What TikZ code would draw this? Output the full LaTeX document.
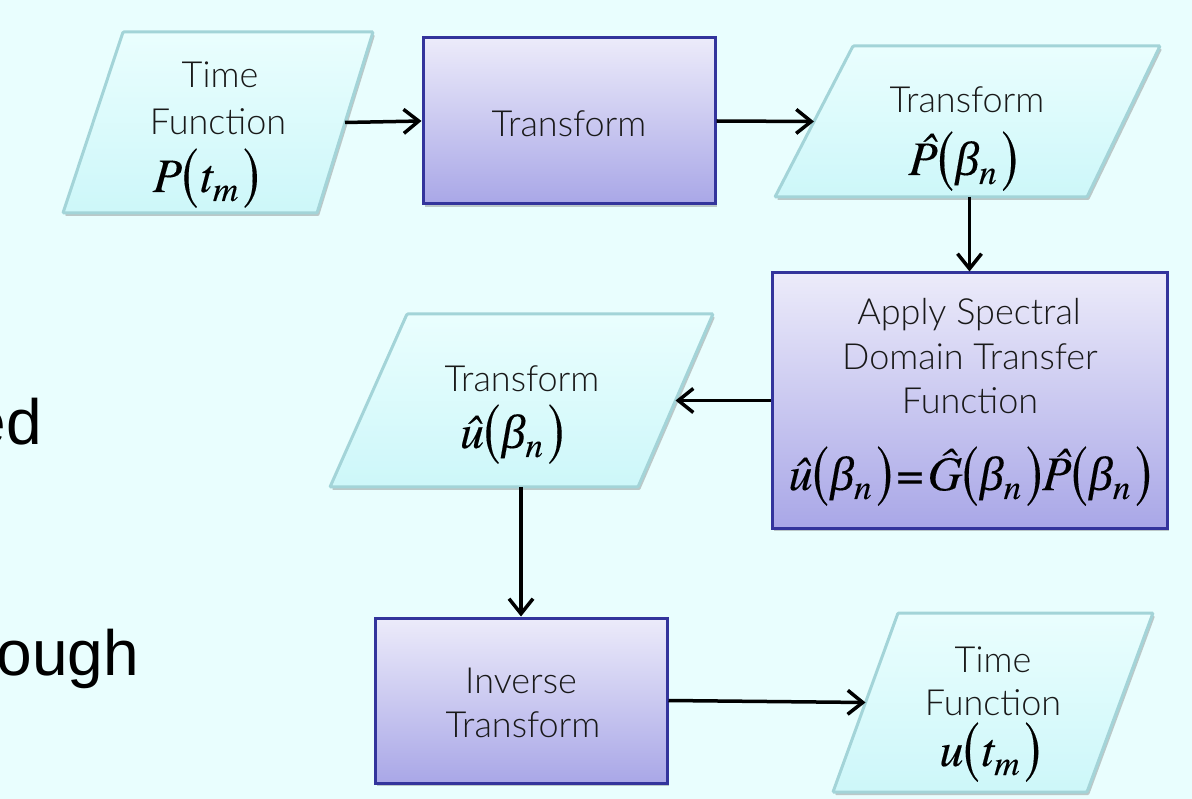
\documentclass[tikz,border=0pt]{standalone}
\usepackage{fontspec}
\usepackage{graphicx}
\usetikzlibrary{arrows.meta,shadows}
\IfFontExistsTF{Lato Light}{\newfontfamily\lt{Lato Light}}{\newfontfamily\lt{Lato}}
\IfFontExistsTF{texgyretermes-italic.otf}
  {\newfontfamily\tmf{texgyretermes-regular.otf}[ItalicFont=texgyretermes-italic.otf,FakeBold=0.25]}
  {\newfontfamily\tmf{Liberation Serif}[ItalicFont={Liberation Serif Italic},FakeBold=0.25]}
\newfontfamily\grf{Liberation Serif}[ItalicFont={Liberation Serif Italic},FakeBold=0.25]
\newfontfamily\arialf{Liberation Sans}
\definecolor{bg}{HTML}{E9FEFE}
\definecolor{paratop}{HTML}{EAFEFE}
\definecolor{parabot}{HTML}{CDF7F9}
\definecolor{parabd}{HTML}{A3D4D8}
\definecolor{rtop}{HTML}{ECEBFA}
\definecolor{rbot}{HTML}{A9A7E7}
\definecolor{rbd}{HTML}{33349C}
\newcommand\LP{\raisebox{-3.5pt}{\scalebox{1}[1.45]{\upshape(}}\kern1.5pt}
\newcommand\RP{\kern5pt\raisebox{-3.5pt}{\scalebox{1}[1.45]{\upshape)}}}
\newcommand\sbs[1]{\raisebox{-9pt}{\fontsize{35}{35}\selectfont #1}}
\newcommand\bt{{\grf\itshape β}}
\newcommand\hP{\rlap{\kern12pt\raisebox{9pt}{ˆ}}P}
\newcommand\paral[7]{%
  \path[para] (#2,#4) -- (#3,#4) -- (#6,#7) -- (#5,#7) -- cycle;
  \coordinate (#1r) at ({(#3+#6)/2},{(#4+#7)/2});
  \coordinate (#1l) at ({(#2+#5)/2},{(#4+#7)/2});
  \coordinate (#1b) at ({(#5+#6)/2},#7);
}
\tikzset{
  shd/.style={drop shadow={shadow xshift=2pt,shadow yshift=-3pt,opacity=0.35,fill=black!60}},
  para/.style={draw=parabd,line width=3pt,top color=paratop,bottom color=parabot,rounded corners=1pt,shd},
  rbox/.style={draw=rbd,line width=3pt,top color=rtop,bottom color=rbot,shd,inner sep=0},
  txt/.style={font=\lt\fontsize{36}{40}\selectfont,inner sep=0,anchor=base,text=black!90},
  fm/.style={font=\tmf\itshape\fontsize{48}{50}\selectfont,inner sep=0,anchor=base},
  big/.style={font=\arialf\fontsize{64}{64}\selectfont,inner sep=0,anchor=base east},
  arr/.style={-{Straight Barb[length=15pt,width=24pt]},line width=3.5pt,black}
}
\begin{document}
\begin{tikzpicture}[x=1pt,y=-1pt]
\useasboundingbox (0,0) rectangle (1192,799);
\fill[bg] (0,0) rectangle (1192,799);

% side text (cut off)
\node[big] (ed) at (42,445) {ed};
\node[big] (ough) at (139,675) {ough};

% parallelograms
\paral{p1}{123}{373}{32}{63}{317}{213}
\paral{p2}{853}{1160}{46}{775}{1087}{197}
\paral{p3}{407}{713}{314}{330}{638}{487}
\paral{p4}{898}{1153}{613}{833}{1087}{792}

% boxes
\node[rbox,minimum width=292pt,minimum height=166pt] (tr) at (569,121) {};
\node[rbox,minimum width=395pt,minimum height=255pt] (ap) at (969.5,400.5) {};
\node[rbox,minimum width=292pt,minimum height=165pt] (iv) at (521,700.5) {};

% texts p1
\node[txt] (p1a) at (220,88) {Time};
\node[txt] (p1c) at (218,135) {Function};
\node[fm] (p1f) at (206,192) {P\LP t\sbs{m}\RP};
% transform box
\node[txt] (trt) at (569,137) {Transform};
% p2
\node[txt] (p2a) at (967,113) {Transform};
\node[fm] (p2f) at (963,175) {\hP\LP\bt\sbs{n}\RP};
% apply box
\node[txt] (apa) at (969,325) {Apply Spectral};
\node[txt] (apb) at (970,370) {Domain Transfer};
\node[txt] (apc) at (970,414) {Function};
\node[fm] (apf) at (970,490) {û\LP\bt\sbs{n}\RP\kern4pt{\upshape=}\kern4pt Ĝ\LP\bt\sbs{n}\RP\hP\LP\bt\sbs{n}\RP};
% p3
\node[txt] (p3a) at (522,392) {Transform};
\node[fm] (p3f) at (512,448) {û\LP\bt\sbs{n}\RP};
% inverse box
\node[txt] (iva) at (521,693) {Inverse};
\node[txt] (ivb) at (523,737) {Transform};
% p4
\node[txt] (p4a) at (993,672) {Time};
\node[txt] (p4b) at (993,715) {Function};
\node[fm] (p4f) at (990,766) {u\LP t\sbs{m}\RP};

% connectors
\draw[arr] (p1r) -- (tr.west);
\draw[arr] (tr.east) -- (p2l);
\draw[arr] (ap.north |- p2b) -- (ap.north);
\draw[arr] (ap.west) -- (p3r);
\draw[arr] (iv.north |- p3b) -- (iv.north);
\draw[arr] (iv.east) -- (p4l);
\end{tikzpicture}
\end{document}
